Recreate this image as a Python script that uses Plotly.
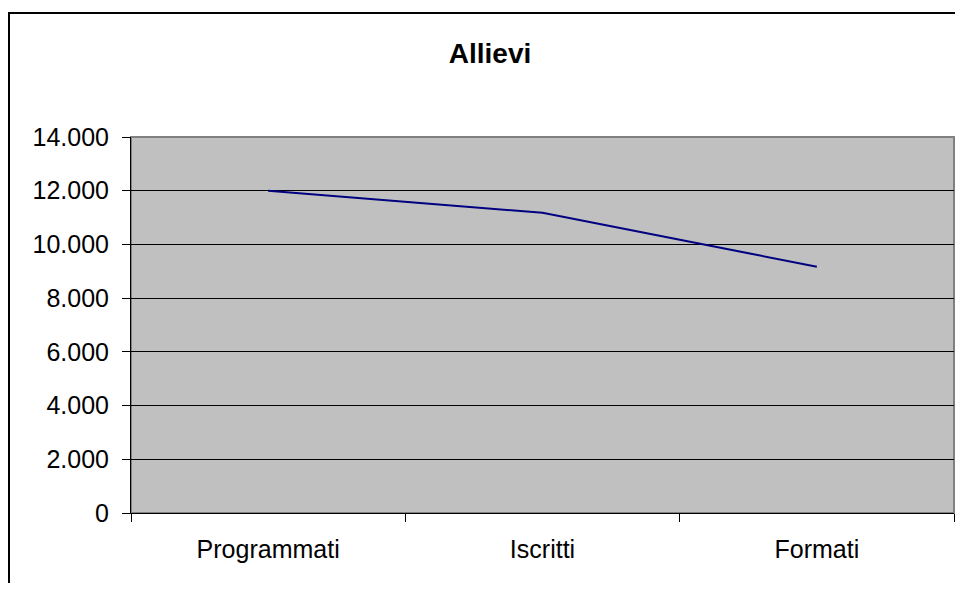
import plotly.graph_objects as go

categories = ["Programmati", "Iscritti", "Formati"]
allievi = [12000, 11180, 9170]
y_ticks = [0, 2000, 4000, 6000, 8000, 10000, 12000, 14000]

# page body adds an 8px margin, so the figure is sized to fit inside it
W, H = 947, 575
L, R, T, B = 123, 1, 129, 70

fig = go.Figure(
    go.Scatter(
        x=categories, y=allievi,
        mode="lines",
        line=dict(color="#000080", width=2),
        showlegend=False,
    )
)

fig.update_layout(
    width=W, height=H,
    title=dict(
        text="<b>Allievi</b>", x=(490 - 8) / W, xanchor="center",
        xref="container", y=1 - 45 / H, yanchor="middle",
        font=dict(family="Liberation Sans, Arial", size=28, color="#000000"),
    ),
    font=dict(family="Liberation Sans, Arial", size=25, color="#000000"),
    separators=",.",
    margin=dict(l=L, r=R, t=T, b=B),
    paper_bgcolor="#FFFFFF",
    plot_bgcolor="#C0C0C0",
)

fig.update_xaxes(
    type="category", range=[-0.5, 2.5],
    showgrid=False, tickson="boundaries",
    ticks="outside", ticklen=8, tickcolor="#000000",
    showline=True, linecolor="#000000", linewidth=1,
    ticklabelstandoff=14,
)
fig.update_yaxes(
    range=[0, 14000], tickvals=y_ticks, tickformat=",d",
    showgrid=True, gridcolor="#000000", gridwidth=1,
    ticks="outside", ticklen=8, tickcolor="#000000",
    showline=True, linecolor="#000000", linewidth=1,
    zeroline=False, ticklabelstandoff=8,
)

pw = W - L - R
ph = H - T - B
# gray border on top/right of plot area
fig.add_shape(type="rect", xref="paper", yref="paper", x0=0, x1=1, y0=0, y1=1,
              line=dict(color="#808080", width=2), layer="below")
# outer chart frame
fig.add_shape(type="rect", xref="paper", yref="paper",
              x0=(1 - L) / pw, x1=1.05, y0=-0.4, y1=(H - B - 5) / ph,
              line=dict(color="#000000", width=2))

fig.write_html("out.html")
